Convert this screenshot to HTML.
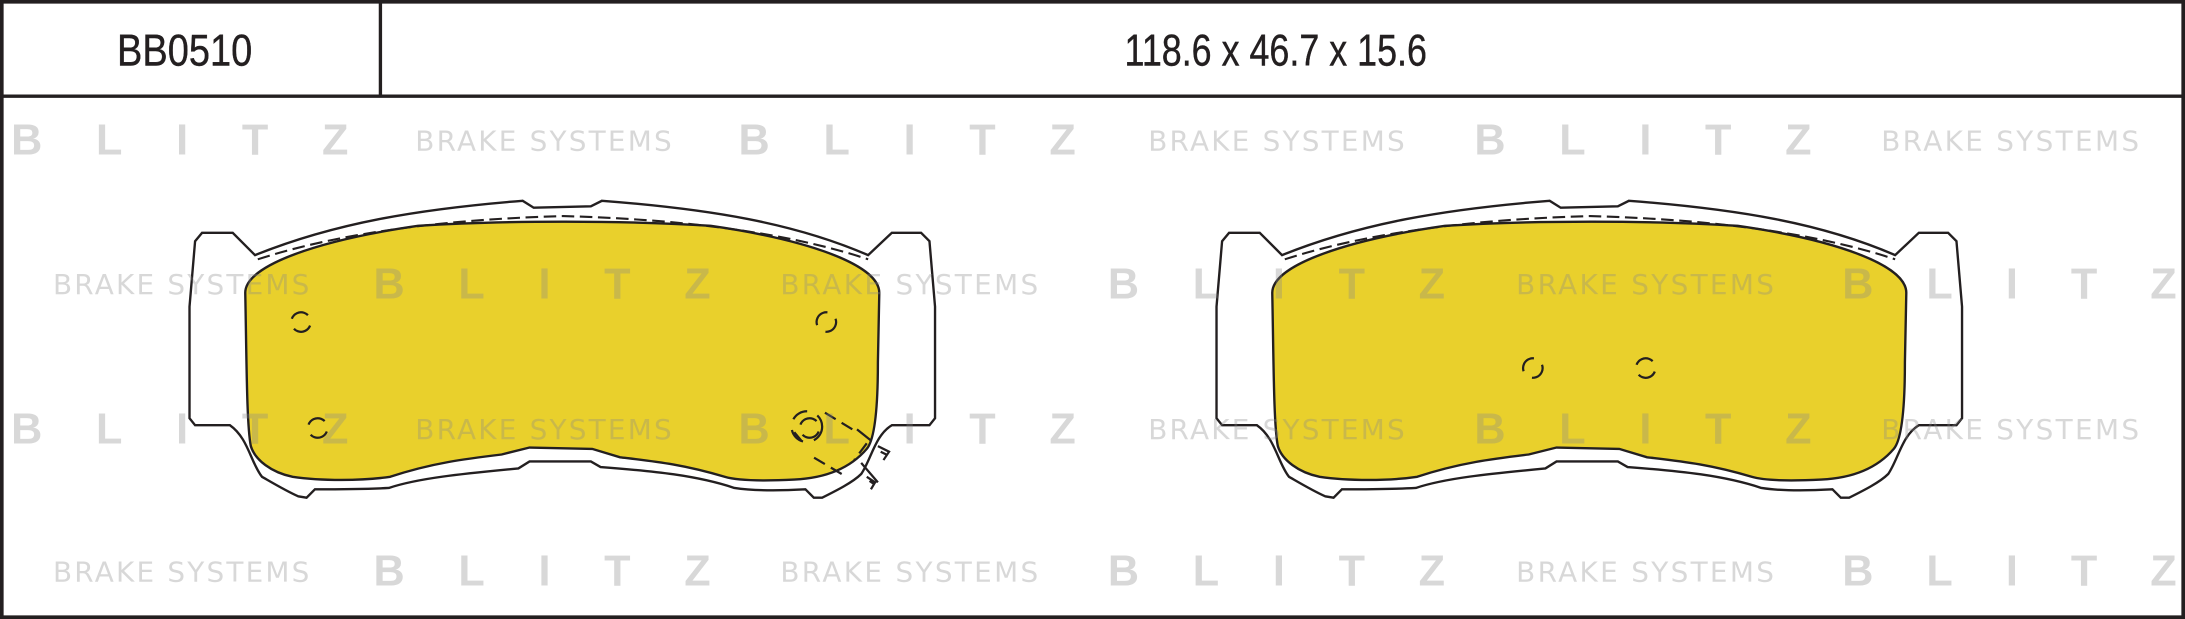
<!DOCTYPE html>
<html><head><meta charset="utf-8"><style>
html,body{margin:0;padding:0;background:#fff;}
svg{display:block;}
.wb{font-family:"Liberation Sans",sans-serif;font-weight:bold;fill:#8a8a8a;fill-opacity:0.33;font-size:31px;}
.ws{font-family:"DejaVu Sans","Liberation Sans",sans-serif;fill:#8a8a8a;fill-opacity:0.33;font-size:20px;}
.hd{font-family:"Liberation Sans",sans-serif;fill:#231f20;font-size:32px;stroke:#231f20;stroke-width:0.3;}
</style></head><body>
<svg width="2185" height="619" viewBox="0 0 1568 444" preserveAspectRatio="none" xmlns="http://www.w3.org/2000/svg">
<rect x="0" y="0" width="1568" height="444" fill="#fff"/>

<defs>
<g id="pad">
<path d="M145,167 L167,167 L183,183 C240,160 300,150 375,144 L383,149 L424,148 L432,144 C510,150 570,160 623,183 L640,167 L661,167 L667,173 L671,220 L671,300 L667,305 L640,305 C628,312 625,330 618,340 C612,346 600,352 590,357 L584,357 L578,351 C560,352 540,352 527,350 C500,341 470,338 431,335 L424,331 L380,331 L372,336 C330,340 300,343 279,350 C260,351 240,351 226,351 L220,357 L214,356 C205,352 195,346 188,342 C180,332 178,314 165,305 L140,305 L136,300 L136,220 L140,173 Z" fill="#fff" stroke="#231f20" stroke-width="1.7"/>
<path d="M176,210 C176,190 230,172 300,162 C360,158 450,158 510,162 C580,172 631,190 631,210 L630,260 C630,290 628,315 622,322 C610,336 592,343 570,344 C550,345 530,345 520,342 C490,333 470,331 445,328 L425,322 L380,321 L360,326 C335,329 310,332 280,342 C260,345 230,345 210,342 C195,339 183,330 180,320 C177,305 177,260 176,210 Z" fill="#e9d02c" stroke="#231f20" stroke-width="1.7"/>
<path d="M185,186 C250,165 330,157 404,155 C480,157 560,165 623,186" fill="none" stroke="#231f20" stroke-width="1.5" stroke-dasharray="9 4"/>
</g>
<g id="hole">
<circle r="7" fill="none" stroke="#231f20" stroke-width="1.6" stroke-dasharray="14 8"/>
</g>
</defs>

<use href="#pad"/>
<use href="#pad" transform="translate(737,0)"/>

<use href="#hole" transform="translate(216,231) rotate(200)"/>
<use href="#hole" transform="translate(593,231) rotate(-20)"/>
<use href="#hole" transform="translate(228,307) rotate(200)"/>
<use href="#hole" transform="translate(1100,264) rotate(-20)"/>
<use href="#hole" transform="translate(1181,264) rotate(200)"/>
<g fill="none" stroke="#231f20" stroke-width="1.6">
<circle cx="581" cy="307" r="7" stroke-dasharray="14 8" transform="rotate(200 581 307)"/>
<circle cx="579" cy="306" r="11" stroke-dasharray="12 8"/>
<path d="M592,296 L615,310 M622,318 L613,330 M604,340 L582,327 M575,316 L570,310" stroke-dasharray="9 5"/>
<path d="M615,308 L625,316 M618,332 L630,346"/>
<path d="M630,320 L638,324 L634,330 M632,324 L636,326"/>
<path d="M622,342 L628,346 L625,351 M624,345 L627,347"/>
</g>

<g>
<text class="wb" x="8" y="111" textLength="242" lengthAdjust="spacing">BLITZ</text>
<text class="ws" x="298" y="108" textLength="184" lengthAdjust="spacing">BRAKE SYSTEMS</text>
<text class="wb" x="530" y="111" textLength="242" lengthAdjust="spacing">BLITZ</text>
<text class="ws" x="824" y="108" textLength="184" lengthAdjust="spacing">BRAKE SYSTEMS</text>
<text class="wb" x="1058" y="111" textLength="242" lengthAdjust="spacing">BLITZ</text>
<text class="ws" x="1350" y="108" textLength="185" lengthAdjust="spacing">BRAKE SYSTEMS</text>

<text class="ws" x="38" y="211" textLength="184" lengthAdjust="spacing">BRAKE SYSTEMS</text>
<text class="wb" x="268" y="214" textLength="242" lengthAdjust="spacing">BLITZ</text>
<text class="ws" x="560" y="211" textLength="185" lengthAdjust="spacing">BRAKE SYSTEMS</text>
<text class="wb" x="795" y="214" textLength="242" lengthAdjust="spacing">BLITZ</text>
<text class="ws" x="1088" y="211" textLength="185" lengthAdjust="spacing">BRAKE SYSTEMS</text>
<text class="wb" x="1322" y="214" textLength="240" lengthAdjust="spacing">BLITZ</text>

<text class="wb" x="8" y="318" textLength="242" lengthAdjust="spacing">BLITZ</text>
<text class="ws" x="298" y="315" textLength="184" lengthAdjust="spacing">BRAKE SYSTEMS</text>
<text class="wb" x="530" y="318" textLength="242" lengthAdjust="spacing">BLITZ</text>
<text class="ws" x="824" y="315" textLength="184" lengthAdjust="spacing">BRAKE SYSTEMS</text>
<text class="wb" x="1058" y="318" textLength="242" lengthAdjust="spacing">BLITZ</text>
<text class="ws" x="1350" y="315" textLength="185" lengthAdjust="spacing">BRAKE SYSTEMS</text>

<text class="ws" x="38" y="417" textLength="184" lengthAdjust="spacing">BRAKE SYSTEMS</text>
<text class="wb" x="268" y="420" textLength="242" lengthAdjust="spacing">BLITZ</text>
<text class="ws" x="560" y="417" textLength="185" lengthAdjust="spacing">BRAKE SYSTEMS</text>
<text class="wb" x="795" y="420" textLength="242" lengthAdjust="spacing">BLITZ</text>
<text class="ws" x="1088" y="417" textLength="185" lengthAdjust="spacing">BRAKE SYSTEMS</text>
<text class="wb" x="1322" y="420" textLength="240" lengthAdjust="spacing">BLITZ</text>
</g>

<rect x="1.3" y="1.3" width="1565.4" height="441.4" fill="none" stroke="#231f20" stroke-width="2.6"/>
<line x1="0" y1="69" x2="1568" y2="69" stroke="#231f20" stroke-width="2.4"/>
<line x1="273" y1="0" x2="273" y2="69" stroke="#231f20" stroke-width="2.4"/>
<text class="hd" x="84" y="47" textLength="97" lengthAdjust="spacingAndGlyphs">BB0510</text>
<text class="hd" x="807" y="47" textLength="217" lengthAdjust="spacingAndGlyphs">118.6 x 46.7 x 15.6</text>
</svg>
</body></html>
